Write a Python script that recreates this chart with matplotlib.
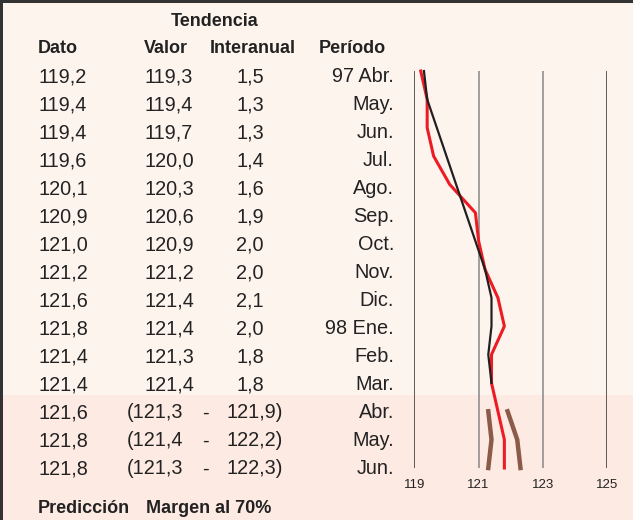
import matplotlib.pyplot as plt
from matplotlib.patches import Rectangle

plt.rcParams['font.family'] = ['Liberation Sans', 'DejaVu Sans']

# datos de la tabla
periodos = ['97 Abr.', 'May.', 'Jun.', 'Jul.', 'Ago.', 'Sep.', 'Oct.', 'Nov.', 'Dic.',
            '98 Ene.', 'Feb.', 'Mar.', 'Abr.', 'May.', 'Jun.']
dato = [119.2, 119.4, 119.4, 119.6, 120.1, 120.9, 121.0, 121.2, 121.6, 121.8, 121.4, 121.4,
        121.6, 121.8, 121.8]
tendencia = [119.3, 119.4, 119.7, 120.0, 120.3, 120.6, 120.9, 121.2, 121.4, 121.4, 121.3, 121.4]
interanual = [1.5, 1.3, 1.3, 1.4, 1.6, 1.9, 2.0, 2.0, 2.1, 2.0, 1.8, 1.8]
margen_inf = [121.3, 121.4, 121.3]
margen_sup = [121.9, 122.2, 122.3]
ticks = [119, 121, 123, 125]


def fmt(v):
    return f'{v:.1f}'.replace('.', ',')


W, H = 633, 520
fig = plt.figure(figsize=(W / 100, H / 100), dpi=100)
fig.patch.set_facecolor('#fef4ee')

# capa en pixeles para fondo y texto
bg = fig.add_axes([0, 0, 1, 1])
bg.set_xlim(0, W)
bg.set_ylim(H, 0)
bg.axis('off')
bg.add_patch(Rectangle((0, 395), W, H - 395, color='#fdeae2', lw=0))
bg.add_patch(Rectangle((0, 0), W, 3, color='#333333', lw=0))
bg.add_patch(Rectangle((0, 0), 3, H, color='#333333', lw=0))

hdr = dict(fontsize=13, fontweight='bold', color='#222222', va='baseline')
bg.text(214.5, 26, 'Tendencia', ha='center', **hdr)
bg.text(38, 53, 'Dato', ha='left', **hdr)
bg.text(144, 53, 'Valor', ha='left', **hdr)
bg.text(253, 53, 'Interanual', ha='center', **hdr)
bg.text(319, 53, 'Período', ha='left', **hdr)
bg.text(38, 513, 'Predicción', ha='left', **hdr)
bg.text(146, 513, 'Margen al 70%', ha='left', **hdr)

txt = dict(fontsize=14.3, color='#222222', va='baseline')
for i, p in enumerate(periodos):
    y = 82.5 + 28.0 * i
    bg.text(38, y, fmt(dato[i]), ha='left', **txt)
    bg.text(394, y, p, ha='right', **txt)
    if i < len(tendencia):
        bg.text(144, y, fmt(tendencia[i]), ha='left', **txt)
        bg.text(250, y, fmt(interanual[i]), ha='center', **txt)
    else:
        j = i - len(tendencia)
        bg.text(127, y, '(' + fmt(margen_inf[j]), ha='left', **txt)
        bg.text(205, y, '-', ha='center', **txt)
        bg.text(227, y, fmt(margen_sup[j]) + ')', ha='left', **txt)

# grafico de la derecha
x0, x1 = 414.3, 607.3
y0, y1 = 71, 468
ax = fig.add_axes([x0 / W, 1 - y1 / H, (x1 - x0) / W, (y1 - y0) / H])
ax.patch.set_alpha(0)
ax.axis('off')
ax.set_xlim(119, 125)
ax.set_ylim(len(periodos) - 1, 0)

for t in ticks:
    c = '#333333' if t in (119, 125) else '#888888'
    ax.axvline(t, color=c, lw=1.1, zorder=1)
    ax.text(t, 14.6, str(t), ha='center', va='center', fontsize=9.5, color='#222222')

n = len(tendencia)
rows = list(range(len(periodos)))
ax.plot(dato, rows, color='#ed1c24', lw=2.2, zorder=3, clip_on=False)
ax.plot(tendencia, rows[:n], color='#231f20', lw=1.6, zorder=4, clip_on=False)
ax.plot(margen_inf, rows[n:], color='#8b5a48', lw=3.2, zorder=2, clip_on=False)
ax.plot(margen_sup, rows[n:], color='#8b5a48', lw=3.2, zorder=2, clip_on=False)

fig.savefig('out.png', dpi=100, facecolor=fig.get_facecolor())
